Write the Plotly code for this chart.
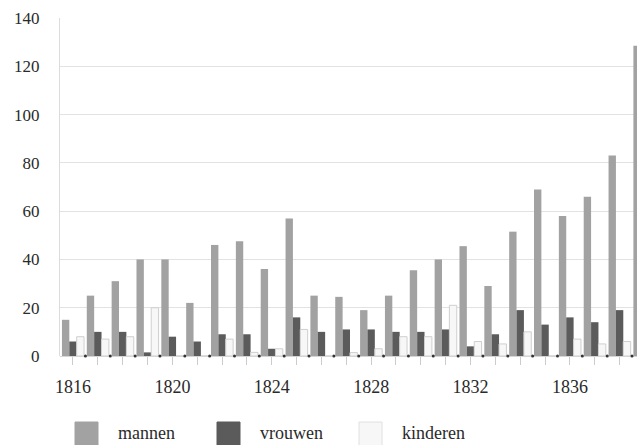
import plotly.graph_objects as go

years = list(range(1816, 1840))
mannen = [15, 25, 31, 40, 40, 22, 46, 47.5, 36, 57, 25, 24.5, 19, 25, 35.5, 40, 45.5, 29, 51.5, 69, 58, 66, 83, 128.5]
vrouwen = [6, 10, 10, 1.5, 8, 6, 9, 9, 3, 16, 10, 11, 11, 10, 10, 11, 4, 9, 19, 13, 16, 14, 19, None]
kinderen = [8, 7, 8, 20, 0, 0, 7, 1.5, 3, 11, 0, 1.4, 3, 8, 8, 21, 6, 5, 10, 0, 7, 5, 6, None]
tick_labels = ["1816", "", "", "", "1820", "", "", "", "1824", "", "", "", "1828", "", "", "",
               "1832", "", "", "", "1836", "", "", ""]
series_names = ["mannen", "vrouwen", "kinderen"]

col_m = "#a2a2a2"
col_v = "#5b5b5b"
col_k = "#f7f7f7"
font_family = "Liberation Serif"
text_col = "#2a2a2a"

fig = go.Figure()
fig.add_trace(go.Bar(x=years, y=mannen, name=series_names[0], marker=dict(color=col_m, line=dict(width=0)), showlegend=False))
fig.add_trace(go.Bar(x=years, y=vrouwen, name=series_names[1], marker=dict(color=col_v, line=dict(width=0)), showlegend=False))
fig.add_trace(go.Bar(x=years, y=kinderen, name=series_names[2], marker=dict(color=col_k, line=dict(width=1, color="#cfcfcf")), showlegend=False))

# small baseline dots between groups
fig.add_trace(go.Scatter(x=[y + 0.5 for y in years[:-1]], y=[0] * (len(years) - 1), mode="markers",
                         marker=dict(size=3, color="#333333"), showlegend=False, hoverinfo="skip", cliponaxis=False))

L, T, B = 60, 18, 356
PW = 637 - L
PH = B - T

fig.update_layout(
    width=637, height=445,
    margin=dict(l=L, r=0, t=T, b=445 - B),
    paper_bgcolor="white", plot_bgcolor="white",
    barmode="group", bargap=0.11, bargroupgap=0,
    font=dict(family=font_family, size=17, color=text_col),
    showlegend=False,
)
fig.update_xaxes(
    range=[1815.477, 1838.70],
    tickmode="array", tickvals=years, ticktext=tick_labels,
    ticks="outside", ticklen=8, tickcolor="#cccccc", tickwidth=1,
    showgrid=False, zeroline=False, showline=False,
    ticklabelstandoff=6,
    tickfont=dict(size=18, family=font_family, color=text_col),
)
fig.update_yaxes(
    range=[0, 140], dtick=20, tick0=0,
    showgrid=True, gridcolor="#e2e2e2", gridwidth=1,
    zeroline=True, zerolinecolor="#d5d5d5", zerolinewidth=1,
    showline=True, linecolor="#dcdcdc", linewidth=1,
    ticks="", ticklabelstandoff=16,
    tickfont=dict(size=17, family=font_family, color=text_col),
)

# manual legend with large squares
legend_cols = [col_m, col_v, col_k]
sq_x = [75, 217, 359]
for i, name in enumerate(series_names):
    fig.add_shape(type="rect", xref="paper", yref="paper",
                  x0=(sq_x[i] - L) / PW, x1=(sq_x[i] + 23 - L) / PW,
                  y0=(B - 446) / PH, y1=(B - 422) / PH,
                  fillcolor=legend_cols[i],
                  line=dict(width=1, color="#e0e0e0" if i == 2 else legend_cols[i]))
    fig.add_annotation(xref="paper", yref="paper", x=(sq_x[i] + 41 - L) / PW, y=(B - 433) / PH,
                       text=name, showarrow=False, xanchor="left", yanchor="middle",
                       font=dict(size=18, family=font_family, color=text_col))

fig.write_html("out.html", config={"displayModeBar": False},
               post_script="document.body.style.margin='0px';document.body.style.overflow='hidden';")
